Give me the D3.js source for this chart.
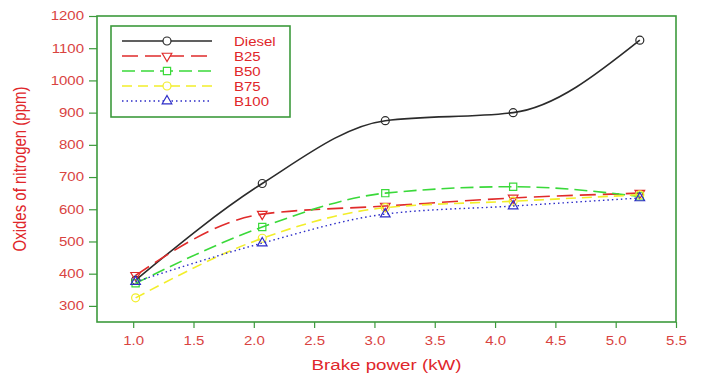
<!DOCTYPE html>
<meta charset="utf-8">
<html>
<head>
<title>Oxides of nitrogen vs brake power</title>
<style>
    body { margin: 0; background: #fff; }
    text { font-family: "Liberation Sans", Arial, sans-serif; }
    .tick text { fill: #d9433f; font-size: 12px; }
    .axistitle { fill: #e0262a; font-size: 15px; }
    .legtext { fill: #e0262a; font-size: 12px; }
</style>
<script src="https://cdn.jsdelivr.net/npm/d3@7"></script>
</head>
<body>
<script>

    var width = 703, height = 376;
    var stretch = 1.25;   // the source picture's text is wider than plain Arial

    // data
    var power  = [1.02, 2.07, 3.09, 4.15, 5.2];
    var diesel = [380, 680, 875, 900, 1125];
    var b25    = [395, 585, 610, 635, 650];
    var b50    = [370, 545, 650, 670, 640];
    var b75    = [325, 510, 605, 625, 645];
    var b100   = [375, 495, 585, 610, 635];
    var names  = ["Diesel", "B25", "B50", "B75", "B100"];
    var xTicks = [1.0, 1.5, 2.0, 2.5, 3.0, 3.5, 4.0, 4.5, 5.0, 5.5];
    var yTicks = [300, 400, 500, 600, 700, 800, 900, 1000, 1100, 1200];

    var series = [
      {name: names[0], vals: diesel, color: "#2b2b2b", dash: null,    sym: d3.symbolCircle,   rot: 0,   size: 50, w: 1.6},
      {name: names[1], vals: b25,    color: "#e02b2b", dash: "16,7",  sym: d3.symbolTriangle, rot: 180, size: 40, w: 1.6},
      {name: names[2], vals: b50,    color: "#3ad93a", dash: "13,6",  sym: d3.symbolSquare,   rot: 0,   size: 52, w: 1.6},
      {name: names[3], vals: b75,    color: "#f2ee2a", dash: "10,6",  sym: d3.symbolCircle,   rot: 0,   size: 50, w: 1.6},
      {name: names[4], vals: b100,   color: "#2d2dc8", dash: "1.5,3", sym: d3.symbolTriangle, rot: 0,   size: 40, w: 1.4}
    ];

    // plot area edges (note: "top" is reserved on window)
    var pL = 97, pR = 676, pT = 16, pB = 322;

    var x = d3.scaleLinear().domain([0.7, 5.5]).range([pL, pR]);
    var y = d3.scaleLinear().domain([250, 1200]).range([pB, pT]);

    var svg = d3.select("body").append("svg")
        .attr("width", width)
        .attr("height", height);

    // axes
    var xAxis = svg.append("g")
        .attr("transform", "translate(0," + pB + ")")
        .call(d3.axisBottom(x).tickValues(xTicks).tickFormat(d3.format(".1f")).tickSize(6).tickPadding(8));
    var yAxis = svg.append("g")
        .attr("transform", "translate(" + pL + ",0)")
        .call(d3.axisLeft(y).tickValues(yTicks).tickFormat(d3.format("d")).tickSize(8).tickPadding(5));

    [xAxis, yAxis].forEach(function(g) {
      g.select(".domain").remove();
      g.selectAll(".tick line").attr("stroke", "#3c9a3c").attr("stroke-width", 1.2);
    });
    xAxis.selectAll(".tick text").attr("transform", "scale(" + stretch + ",1)");
    yAxis.selectAll(".tick text")
      .attr("x", -13 / stretch)
      .attr("transform", "scale(" + stretch + ",1)");

    // plot frame
    svg.append("rect")
      .attr("x", pL).attr("y", pT)
      .attr("width", pR - pL).attr("height", pB - pT)
      .attr("fill", "none").attr("stroke", "#3c9a3c").attr("stroke-width", 1.6);

    // axis titles
    svg.append("text").attr("class", "axistitle")
      .attr("transform", "translate(" + ((pL + pR) / 2) + ",370) scale(" + stretch + ",1)")
      .attr("text-anchor", "middle")
      .text("Brake power (kW)");
    svg.append("text").attr("class", "axistitle")
      .attr("transform", "translate(26," + ((pT + pB) / 2) + ") rotate(-90) scale(1," + stretch + ")")
      .attr("text-anchor", "middle")
      .text("Oxides of nitrogen (ppm)");

    var line = d3.line()
      .x(function(d, i) { return x(power[i]); })
      .y(function(d) { return y(d); })
      .curve(d3.curveMonotoneX);

    var symbolPath = function(s) {
      return d3.symbol().type(s.sym).size(s.size)();
    };

    // lines and markers
    series.forEach(function(s) {
      svg.append("path")
        .datum(s.vals)
        .attr("d", line)
        .attr("fill", "none")
        .attr("stroke", s.color)
        .attr("stroke-width", s.w)
        .attr("stroke-dasharray", s.dash);

      svg.selectAll(null)
        .data(s.vals)
        .enter().append("path")
        .attr("d", symbolPath(s))
        .attr("transform", function(d, i) {
          return "translate(" + x(power[i]) + "," + y(d) + ") rotate(" + s.rot + ")";
        })
        .attr("fill", "none")
        .attr("stroke", s.color)
        .attr("stroke-width", 1.2);
    });

    // legend
    var leg = svg.append("g");
    leg.append("rect")
      .attr("x", 111).attr("y", 26).attr("width", 179).attr("height", 91)
      .attr("fill", "#fff").attr("stroke", "#3c9a3c").attr("stroke-width", 1.6);

    series.forEach(function(s, i) {
      var ly = 41 + i * 15;
      leg.append("line")
        .attr("x1", 122).attr("x2", 212).attr("y1", ly).attr("y2", ly)
        .attr("stroke", s.color).attr("stroke-width", s.w)
        .attr("stroke-dasharray", s.dash);
      leg.append("path")
        .attr("d", symbolPath(s))
        .attr("transform", "translate(167," + ly + ") rotate(" + s.rot + ")")
        .attr("fill", "#fff")
        .attr("stroke", s.color)
        .attr("stroke-width", 1.2);
      leg.append("text").attr("class", "legtext")
        .attr("transform", "translate(234," + (ly + 4.5) + ") scale(" + stretch + ",1)")
        .text(s.name);
    });

</script>
</body>
</html>
